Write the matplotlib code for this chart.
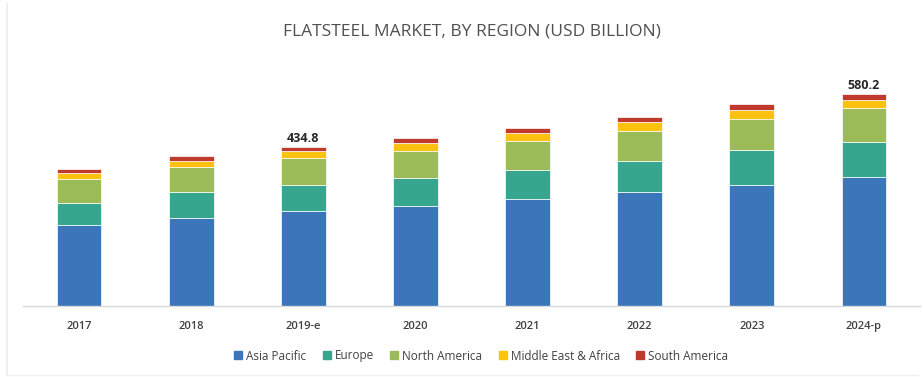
import matplotlib
matplotlib.use("Agg")
import matplotlib.pyplot as plt
import numpy as np
from matplotlib.lines import Line2D

years = ["2017", "2018", "2019-e", "2020", "2021", "2022", "2023", "2024-p"]
asia_pacific = [220.5, 240.5, 258.0, 272.4, 290.7, 309.8, 329.8, 350.8]
europe = [61.0, 69.4, 72.0, 77.3, 80.0, 86.3, 95.6, 97.3]
north_america = [64.0, 68.3, 74.0, 73.8, 79.2, 81.1, 83.9, 92.9]
middle_east_africa = [16.4, 17.0, 18.2, 21.9, 22.7, 23.8, 25.4, 21.0]
south_america = [12.6, 14.5, 12.6, 13.7, 12.0, 15.3, 15.6, 18.2]
region_names = ["Asia Pacific", "Europe", "North America", "Middle East & Africa", "South America"]
labelled_years = ["2019-e", "2024-p"]

colors = ["#3b76ba", "#37a68f", "#9bbb59", "#fcc20f", "#bf3a2b"]

fig = plt.figure(figsize=(9.23, 3.77), dpi=100)
ax = fig.add_axes([23 / 923, 71.3 / 377, 897 / 923, 256 / 377])

series = [asia_pacific, europe, north_america, middle_east_africa, south_america]
x = np.arange(len(years))
bottom = np.zeros(len(years))
for vals, col, name in zip(series, colors, region_names):
    ax.bar(x, vals, width=0.4, bottom=bottom, color=col, edgecolor="white",
           linewidth=0.5, label=name, zorder=2)
    bottom += np.array(vals)

for i, yr in enumerate(years):
    if yr in labelled_years:
        ax.text(x[i], bottom[i] + 5, f"{bottom[i]:.1f}", ha="center", va="bottom",
                fontsize=9, fontweight="bold", color="#262626", family="Open Sans")

ax.set_xlim(-0.5, len(years) - 0.5)
ax.set_ylim(0, 700)
ax.set_yticks([])
ax.set_xticks(x)
ax.set_xticklabels(years, fontsize=8, color="#404040", family="Open Sans", fontweight="semibold")
ax.tick_params(axis="x", length=0, pad=11)
for s in ["top", "right", "left"]:
    ax.spines[s].set_visible(False)
ax.spines["bottom"].set_color("#d9d9d9")
ax.spines["bottom"].set_linewidth(1.0)

fig.text(472 / 923, 1 - 31 / 377, "FLATSTEEL MARKET, BY REGION (USD BILLION)",
         ha="center", va="center", fontsize=12.5, color="#505050", family="Open Sans")

handles = [Line2D([0], [0], marker="s", linestyle="none", markersize=6,
                  markerfacecolor=c, markeredgecolor=c) for c in colors]
fig.legend(handles, region_names, loc="center", bbox_to_anchor=(481 / 923, 1 - 356 / 377),
           ncol=5, frameon=False, handlelength=0.8, handletextpad=0.3,
           columnspacing=1.3, labelcolor="#404040", prop={"family": "Open Sans", "size": 8.5})

# faint frame edges
fig.add_artist(Line2D([7 / 923, 7 / 923], [0.005, 0.99], color="#ececec", lw=1.2,
                      transform=fig.transFigure))
fig.add_artist(Line2D([7 / 923, 0.995], [2 / 377, 2 / 377], color="#f0f0f0", lw=1.0,
                      transform=fig.transFigure))

fig.savefig("out.png", dpi=100, facecolor="white")
